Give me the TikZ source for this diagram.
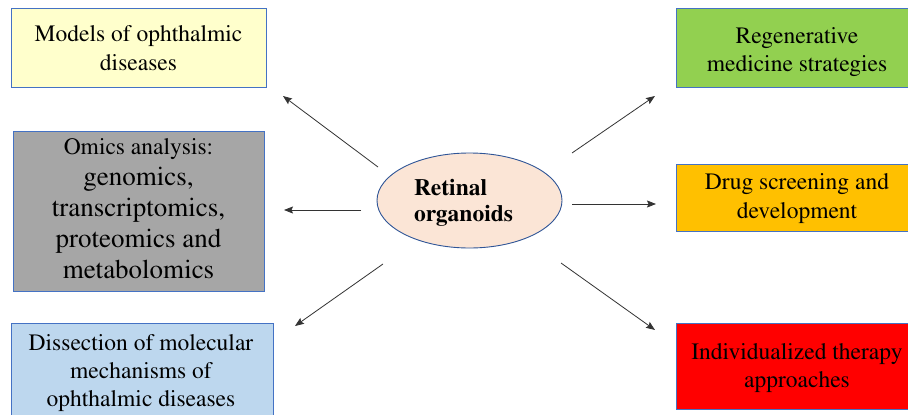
\documentclass[tikz,border=0pt]{standalone}
\usepackage[T1]{fontenc}
\usepackage{times}
\usetikzlibrary{arrows.meta,shapes.geometric}
\definecolor{bordblue}{HTML}{4472C4}
\definecolor{ellborder}{HTML}{2F5597}
\definecolor{cyellow}{HTML}{FFFFCC}
\definecolor{cgray}{HTML}{A6A6A6}
\definecolor{cblue}{HTML}{BDD7EE}
\definecolor{cgreen}{HTML}{92D050}
\definecolor{corange}{HTML}{FFC000}
\definecolor{cred}{HTML}{FF0000}
\definecolor{cpeach}{HTML}{FBE5D6}
\definecolor{arrowgray}{HTML}{333333}
\begin{document}
\begin{tikzpicture}[x=1pt,y=-1pt,
  box/.style={draw=bordblue, line width=0.9pt, inner sep=0pt},
  boxtext/.style={inner sep=0pt, align=center},
  arr/.style={draw=arrowgray, line width=0.8pt, -{Stealth[length=9pt,width=7pt,inset=1.5pt]}}]
\useasboundingbox (0,0) rectangle (908,415);
\clip (0,0) rectangle (908,415);
\fill[white] (0,0) rectangle (908,415);

% left boxes
\node[box, fill=cyellow, minimum width=255pt, minimum height=79pt] (b1) at (138.5,47.5) {};
\node[boxtext, font=\rmfamily\fontsize{23.5}{29}\selectfont] (t1) at (138.5,48.5)
  {Models of ophthalmic\\diseases};

\node[box, fill=cgray, minimum width=251pt, minimum height=160pt] (b2) at (138.5,211) {};
\node[boxtext, font=\rmfamily\fontsize{27}{31}\selectfont] (t2) at (138.5,208.7)
  {{\fontsize{23.5}{31}\selectfont Omics analysis:}\\genomics,\\transcriptomics,\\proteomics and\\metabolomics};

\node[box, fill=cblue, minimum width=262pt, minimum height=100pt] (b3) at (142,373) {};
\node[boxtext, font=\rmfamily\fontsize{23.5}{28}\selectfont] (t3) at (141,373)
  {Dissection of molecular\\mechanisms of\\ophthalmic diseases};

% right boxes
\node[box, fill=cgreen, minimum width=242pt, minimum height=79pt] (b4) at (797,47.5) {};
\node[boxtext, font=\rmfamily\fontsize{23.5}{28}\selectfont] (t4) at (797,51.6)
  {Regenerative\\medicine strategies};

\node[box, fill=corange, minimum width=242pt, minimum height=67pt] (b5) at (797,197.5) {};
\node[boxtext, font=\rmfamily\fontsize{23.5}{29}\selectfont] (t5) at (797,198.1)
  {Drug screening and\\development};

\node[box, fill=cred, minimum width=242pt, minimum height=86pt] (b6) at (797,366) {};
\node[boxtext, font=\rmfamily\fontsize{23.5}{28}\selectfont] (t6) at (797,368)
  {Individualized therapy\\approaches};

% centre ellipse
\node[ellipse, draw=ellborder, line width=0.9pt, fill=cpeach,
      minimum width=185pt, minimum height=95pt, inner sep=0pt] (ro) at (469.5,200.5) {};
\node[align=left, inner sep=0pt, font=\rmfamily\bfseries\fontsize{23.5}{26}\selectfont] (rot) at (463.5,202.5)
  {Retinal\\organoids};

% arrow end points
\coordinate (tul) at (378,167); \coordinate (hul) at (283,96);
\coordinate (tl)  at (361,210); \coordinate (hl)  at (284,210);
\coordinate (tll) at (383,264); \coordinate (hll) at (295,326);
\coordinate (tur) at (572,153); \coordinate (hur) at (655,96);
\coordinate (tr)  at (572,204); \coordinate (hr)  at (656,204);
\coordinate (tlr) at (561,263); \coordinate (hlr) at (655,330);

\draw[arr] (tul) -- (hul);
\draw[arr] (tl) -- (hl);
\draw[arr] (tll) -- (hll);
\draw[arr] (tur) -- (hur);
\draw[arr] (tr) -- (hr);
\draw[arr] (tlr) -- (hlr);
\end{tikzpicture}
\end{document}
